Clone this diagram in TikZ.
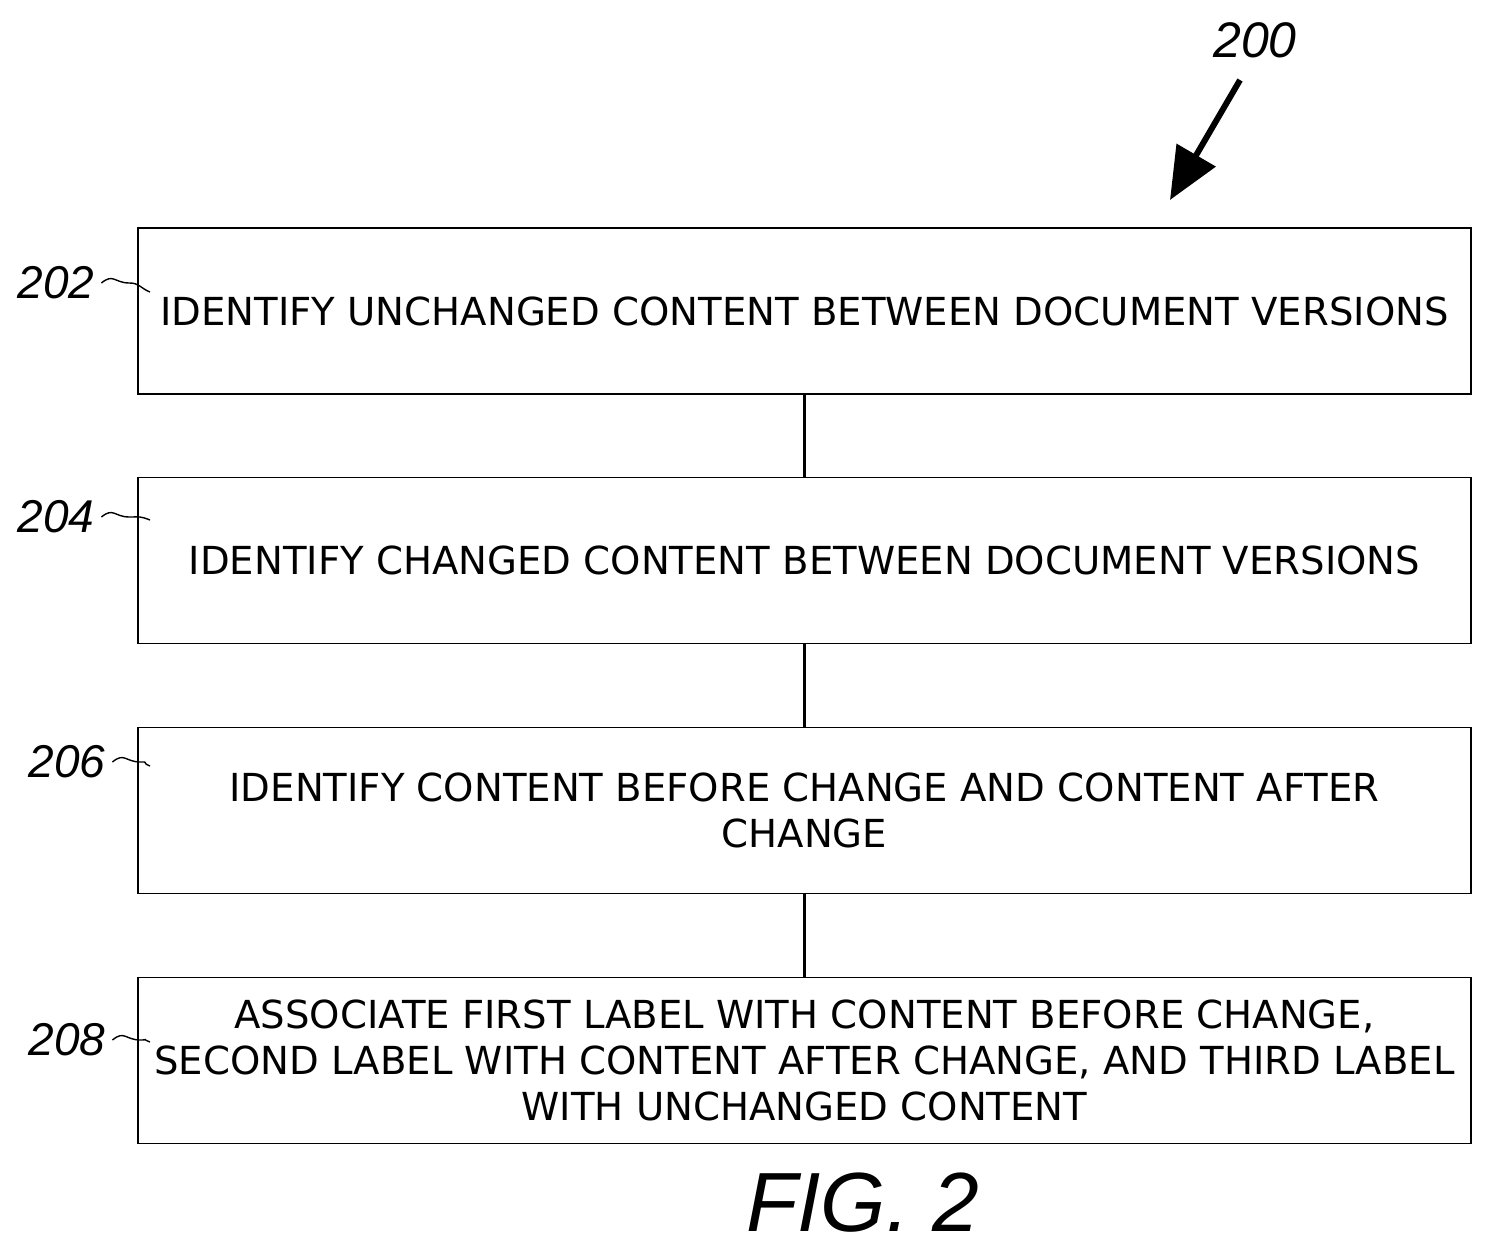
\documentclass[tikz,border=0pt]{standalone}
\usepackage{fontspec}
\setmainfont{Liberation Sans}
\newfontfamily\boxfont{DejaVu Sans}
\usetikzlibrary{arrows.meta}
\begin{document}
\begin{tikzpicture}[x=0.5pt,y=-0.5pt,
  stepbox/.style={draw,line width=0.7pt,minimum width=666.5pt,minimum height=83pt,align=center,inner sep=0pt,font=\boxfont\fontsize{19.3}{23}\selectfont},
  reflab/.style={font=\fontsize{23}{24}\selectfont\itshape},
  link/.style={line width=1.2pt}]
\useasboundingbox (0,0) rectangle (1492,1258);
\node[stepbox] (b1) at (804.5,311) {IDENTIFY UNCHANGED CONTENT BETWEEN DOCUMENT VERSIONS};
\node[stepbox] (b2) at (804.5,560.5) {IDENTIFY CHANGED CONTENT BETWEEN DOCUMENT VERSIONS};
\node[stepbox] (b3) at (804.5,810.5) {IDENTIFY CONTENT BEFORE CHANGE AND CONTENT AFTER\\CHANGE};
\node[stepbox] (b4) at (804.5,1060.5) {ASSOCIATE FIRST LABEL WITH CONTENT BEFORE CHANGE,\\SECOND LABEL WITH CONTENT AFTER CHANGE, AND THIRD LABEL\\WITH UNCHANGED CONTENT};
\draw[link] (b1) -- (b2);
\draw[link] (b2) -- (b3);
\draw[link] (b3) -- (b4);
\node[reflab] (l1) at (56,283) {202};
\node[reflab] (l2) at (56,517) {204};
\node[reflab] (l3) at (67,762) {206};
\node[reflab] (l4) at (67,1040) {208};
\foreach \l/\y in {l1/288,l2/516,l3/762,l4/1038}{
  \coordinate (e\l) at (150,\y+4);
  \draw[line width=0.7pt] (\l.east) .. controls ++(12,-10) and ++(-15,0) .. ++(28,0) .. controls ++(10,0) and ++(-10,-4) .. (e\l);
}
\node[font=\fontsize{25}{26}\selectfont\itshape] (n200) at (1255,40) {200};
\coordinate (a1) at (1240,80);
\coordinate (a2) at (1170,200);
\draw[line width=3pt,-{Triangle[length=26pt,width=22pt]}] (a1) -- (a2);
\node[font=\fontsize{42}{44}\selectfont\itshape] (fig) at (863,1203) {FIG. 2};
\end{tikzpicture}
\end{document}
